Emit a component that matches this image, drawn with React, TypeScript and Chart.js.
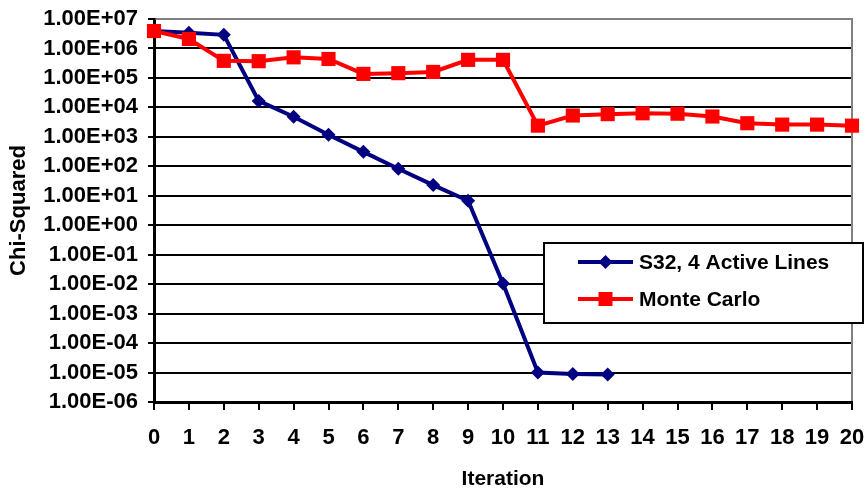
import React, { useEffect, useRef } from "react";
import { Chart, registerables } from "chart.js";

Chart.register(...registerables);

const categories = ["0","1","2","3","4","5","6","7","8","9","10","11","12","13","14","15","16","17","18","19","20"];
const s32Values = [3.9e6, 3.4e6, 2.9e6, 1.66e4, 4.8e3, 1.17e3, 3.1e2, 83, 23, 6.8, 1.05e-2, 1.0e-5, 9.0e-6, 8.5e-6];
const monteCarloValues = [3.9e6, 2.1e6, 3.8e5, 3.7e5, 5.0e5, 4.4e5, 1.37e5, 1.45e5, 1.6e5, 4.1e5, 4.1e5, 2.4e3, 5.3e3, 5.9e3, 6.3e3, 6.1e3, 4.9e3, 2.9e3, 2.6e3, 2.6e3, 2.4e3];
const yTickValues = [1e7, 1e6, 1e5, 1e4, 1e3, 1e2, 1e1, 1e0, 1e-1, 1e-2, 1e-3, 1e-4, 1e-5, 1e-6];
const yTickLabels = ["1.00E+07","1.00E+06","1.00E+05","1.00E+04","1.00E+03","1.00E+02","1.00E+01","1.00E+00","1.00E-01","1.00E-02","1.00E-03","1.00E-04","1.00E-05","1.00E-06"];

const FONT = "'Liberation Sans', Arial, sans-serif";
const NAVY = "#000080";
const RED = "#FF0000";

const borderPlugin = {
  id: "plotBorder",
  beforeDatasetsDraw(chart: any) {
    const { ctx, chartArea } = chart;
    ctx.save();
    ctx.strokeStyle = "#808080";
    ctx.lineWidth = 2;
    ctx.beginPath();
    ctx.moveTo(chartArea.left + 1.5, chartArea.top);
    ctx.lineTo(chartArea.right, chartArea.top);
    ctx.lineTo(chartArea.right, chartArea.bottom - 1);
    ctx.stroke();
    ctx.restore();
  },
};

const legendPlugin = {
  id: "boxLegend",
  afterDraw(chart: any) {
    const { ctx, chartArea } = chart;
    const bx = chartArea.right - 308;
    const by = chartArea.top + 224;
    const bw = 319;
    const bh = 80;
    ctx.save();
    ctx.fillStyle = "#ffffff";
    ctx.fillRect(bx, by, bw, bh);
    ctx.strokeStyle = "#000";
    ctx.lineWidth = 2;
    ctx.strokeRect(bx, by, bw, bh);
    const items = [chart.data.datasets[0], chart.data.datasets[1]];
    items.forEach((ds: any, i: number) => {
      const cy = by + 19 + i * 37;
      const x1 = bx + 34;
      const x2 = bx + 89;
      const cx = (x1 + x2) / 2;
      ctx.strokeStyle = ds.borderColor;
      ctx.lineWidth = 4;
      ctx.beginPath();
      ctx.moveTo(x1, cy);
      ctx.lineTo(x2, cy);
      ctx.stroke();
      ctx.fillStyle = ds.backgroundColor;
      ctx.beginPath();
      if (ds.pointStyle === "rectRot") {
        ctx.moveTo(cx - 7, cy);
        ctx.lineTo(cx, cy - 7);
        ctx.lineTo(cx + 7, cy);
        ctx.lineTo(cx, cy + 7);
        ctx.closePath();
        ctx.fill();
      } else {
        ctx.fillRect(cx - 7, cy - 7, 14, 14);
      }
      ctx.fillStyle = "#000";
      ctx.font = `bold 21px ${FONT}`;
      ctx.textAlign = "left";
      ctx.textBaseline = "middle";
      ctx.fillText(ds.label, x2 + 6, cy + 1);
    });
    ctx.restore();
  },
};

export default function App() {
  const canvasRef = useRef<HTMLCanvasElement | null>(null);

  useEffect(() => {
    if (!canvasRef.current) return;
    const chart = new Chart(canvasRef.current, {
      type: "line",
      data: {
        labels: categories,
        datasets: [
          {
            label: "S32, 4 Active Lines",
            data: s32Values,
            borderColor: NAVY,
            backgroundColor: NAVY,
            borderWidth: 4,
            pointStyle: "rectRot",
            pointRadius: 7,
            pointHoverRadius: 7,
            pointBorderWidth: 0,
            tension: 0,
            clip: false as any,
            order: 1,
          },
          {
            label: "Monte Carlo",
            data: monteCarloValues,
            borderColor: RED,
            backgroundColor: RED,
            borderWidth: 4,
            pointStyle: "rect",
            pointRadius: 10,
            pointHoverRadius: 10,
            pointBorderWidth: 0,
            tension: 0,
            clip: false as any,
            order: 0,
          },
        ],
      },
      options: {
        animation: false,
        responsive: true,
        maintainAspectRatio: false,
        layout: { padding: { top: 19, right: 14, left: 0, bottom: 0 } },
        plugins: {
          legend: { display: false },
          tooltip: { enabled: false },
        },
        scales: {
          x: {
            type: "category",
            offset: false,
            afterFit: (scale: any) => {
              scale.height = 87;
              scale.paddingLeft = 0;
              scale.paddingRight = 0;
            },
            grid: {
              drawOnChartArea: false,
              drawTicks: true,
              tickLength: 8,
              color: "#000",
              lineWidth: 2,
            },
            border: { display: true, color: "#000", width: 3 },
            ticks: {
              color: "#000",
              font: { family: FONT, size: 22, weight: "bold" },
              padding: 15,
              maxRotation: 0,
              autoSkip: false,
            },
            title: {
              display: true,
              text: "Iteration",
              color: "#000",
              font: { family: FONT, size: 21, weight: "bold" },
              padding: { top: 0, bottom: -3 },
            },
          },
          y: {
            type: "logarithmic",
            min: 1e-6,
            max: 1e7,
            afterFit: (scale: any) => {
              scale.width = 154;
              scale.paddingTop = 0;
              scale.paddingBottom = 0;
            },
            afterBuildTicks: (scale: any) => {
              scale.ticks = yTickValues.map((v) => ({ value: v }));
            },
            grid: {
              color: "#000",
              lineWidth: 2,
              drawTicks: true,
              tickLength: 6,
            },
            border: { display: true, color: "#000", width: 3 },
            ticks: {
              color: "#000",
              font: { family: FONT, size: 22, weight: "bold" },
              padding: 10,
              autoSkip: false,
              callback: (value: any) => {
                const idx = yTickValues.findIndex((t) => Math.abs(Math.log10(t) - Math.log10(Number(value))) < 1e-6);
                return idx >= 0 ? yTickLabels[idx] : "";
              },
            },
            title: {
              display: true,
              text: "Chi-Squared",
              color: "#000",
              font: { family: FONT, size: 22, weight: "bold" },
              padding: { top: 6, bottom: 0 },
            },
          },
        },
      },
      plugins: [borderPlugin, legendPlugin],
    });
    return () => chart.destroy();
  }, []);

  return (
    <div style={{ position: "fixed", left: 0, top: 0, width: 866, height: 489, background: "#fff" }}>
      <canvas ref={canvasRef} />
    </div>
  );
}
